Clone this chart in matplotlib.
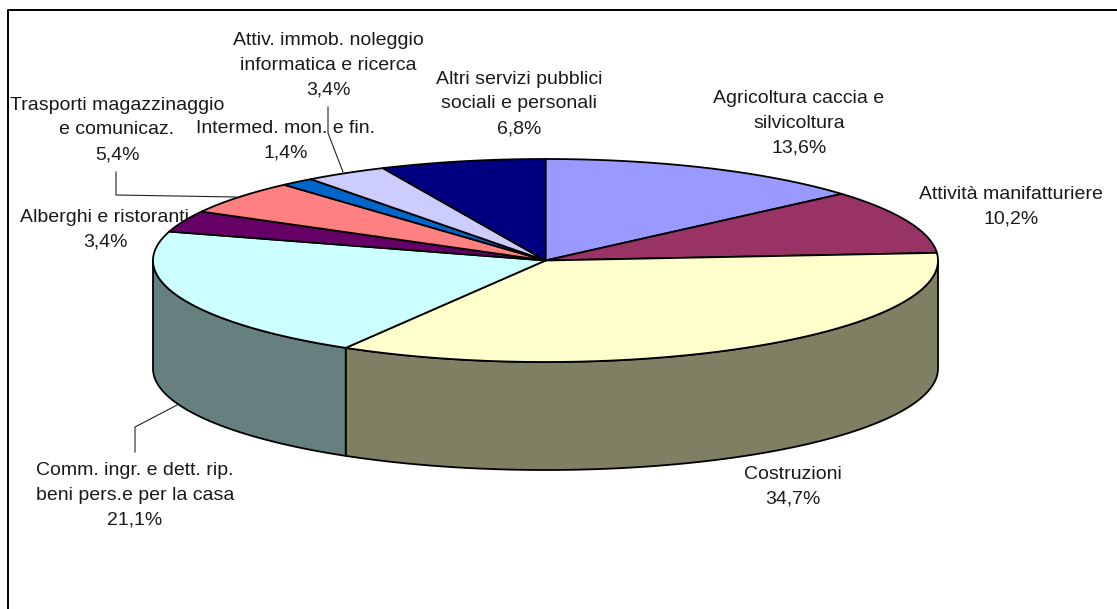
import numpy as np
import matplotlib
matplotlib.use("Agg")
import matplotlib.pyplot as plt
from matplotlib.patches import Polygon

plt.rcParams["font.family"] = ["Liberation Sans", "DejaVu Sans"]

# values, clockwise from 12 o'clock
labels = [
    "Agricoltura caccia e\nsilvicoltura",
    "Attività manifatturiere",
    "Costruzioni",
    "Comm. ingr. e dett. rip.\nbeni pers.e per la casa",
    "Alberghi e ristoranti",
    "Trasporti magazzinaggio\ne comunicaz.",
    "Intermed. mon. e fin.",
    "Attiv. immob. noleggio\ninformatica e ricerca",
    "Altri servizi pubblici\nsociali e personali",
]
values = [13.6, 10.2, 34.7, 21.1, 3.4, 5.4, 1.4, 3.4, 6.8]
value_text = ["13,6%", "10,2%", "34,7%", "21,1%", "3,4%", "5,4%", "1,4%", "3,4%", "6,8%"]
colors = ["#9999FF", "#993366", "#FFFFCC", "#CCFFFF", "#660066",
          "#FF8080", "#0066CC", "#CCCCFF", "#000080"]
side_colors = ["#4D4D80", "#4D1A33", "#7F7F63", "#668080", "#330033",
               "#804040", "#003366", "#666680", "#000040"]

# label centres in image pixels
label_x = [799, 1011, 793, 135, 105, 117, 286, 328, 519]
label_y = [123, 207, 487, 495, 230, 130, 141, 65, 104]

CX, CY, RX, RY, DEPTH = 545.5, 260.5, 392.5, 101.5, 108


def rim(a0, a1):
    # angles in degrees clockwise from the top of the ellipse
    t = np.radians(np.linspace(a0, a1, max(int(abs(a1 - a0)) * 3, 2)))
    return CX + RX * np.sin(t), CY - RY * np.cos(t)


fig = plt.figure(figsize=(11.17, 6.09), dpi=100)
ax = fig.add_axes([0, 0, 1, 1])
ax.set_xlim(0, 1117)
ax.set_ylim(609, 0)
ax.axis("off")

# chart border: only top and left fall inside the picture
ax.plot([7.5, 7.5, 1117], [609, 9.5, 9.5], color="black", lw=1.4)

edges = np.cumsum([0] + values) / sum(values) * 360

# side wall, only the front half shows
for i in range(len(values)):
    a0, a1 = max(edges[i], 90), min(edges[i + 1], 270)
    if a1 <= a0:
        continue
    x, y = rim(a0, a1)
    pts = np.r_[np.c_[x, y], np.c_[x[::-1], y[::-1] + DEPTH]]
    ax.add_patch(Polygon(pts, fc=side_colors[i], ec="black", lw=1.3, joinstyle="round"))

# top face
for i in range(len(values)):
    x, y = rim(edges[i], edges[i + 1])
    pts = np.r_[[[CX, CY]], np.c_[x, y]]
    ax.add_patch(Polygon(pts, fc=colors[i], ec="black", lw=1.3, joinstyle="round"))

# leader lines
ax.plot([328, 328, 343], [107, 133, 172], color="#222222", lw=0.8)
ax.plot([116, 116, 236], [172, 195, 197], color="#222222", lw=0.8)
ax.plot([135, 135, 179], [452, 427, 404], color="#222222", lw=0.8)

for lab, val, lx, ly in zip(labels, value_text, label_x, label_y):
    ax.text(lx, ly, lab + "\n" + val, ha="center", va="center",
            fontsize=14, color="#1a1a1a", linespacing=1.6)

fig.savefig("out.png", dpi=100)
